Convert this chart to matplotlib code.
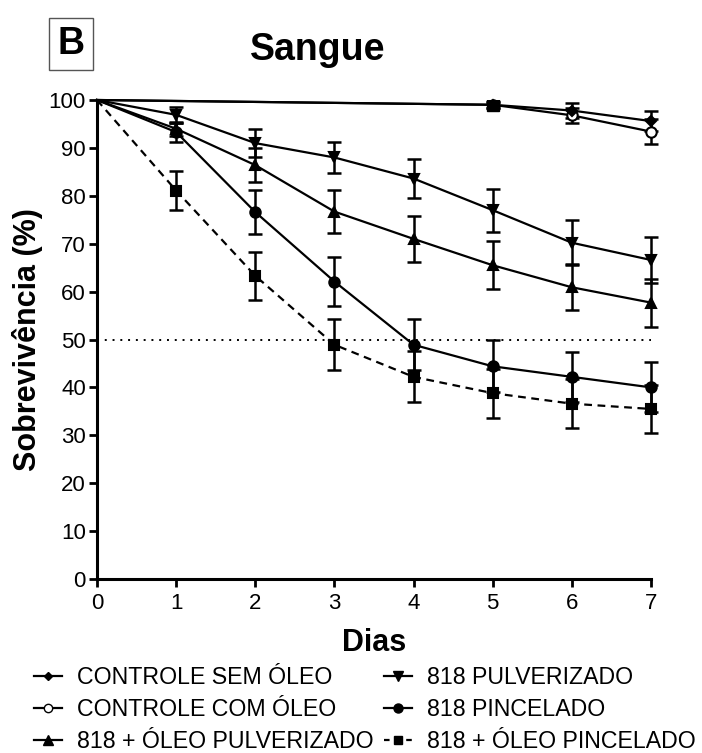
import numpy as np
import matplotlib.pyplot as plt
from matplotlib.lines import Line2D

plt.rcParams['font.family'] = ['Liberation Sans', 'DejaVu Sans']

# dados
dias = [0, 1, 2, 3, 4, 5, 6, 7]
dias_ctrl = [0, 5, 6, 7]

ctrl_sem = [100, 99.0, 97.8, 95.6]
ctrl_sem_err = [0, 0.6, 1.5, 2.1]
ctrl_com = [100, 99.0, 96.8, 93.4]
ctrl_com_err = [0, 0.6, 1.5, 2.6]

pulv = [100, 96.9, 91.0, 88.0, 83.6, 77.0, 70.2, 66.6]
pulv_err = [0, 1.6, 3.0, 3.3, 4.0, 4.5, 4.7, 4.8]
oleo_pulv = [100, 94.0, 86.4, 76.7, 71.0, 65.5, 60.9, 57.7]
oleo_pulv_err = [0, 1.5, 3.5, 4.5, 4.8, 5.0, 4.8, 5.0]
pinc = [100, 93.3, 76.6, 62.1, 48.9, 44.4, 42.2, 40.0]
pinc_err = [0, 2.0, 4.6, 5.2, 5.3, 5.4, 5.2, 5.2]
oleo_pinc = [100, 81.1, 63.3, 48.9, 42.2, 38.8, 36.6, 35.5]
oleo_pinc_err = [0, 4.0, 5.0, 5.3, 5.3, 5.1, 5.1, 5.0]

fig = plt.figure(figsize=(7.02, 7.53), dpi=100)
ax = fig.add_axes([97/702, 1-579/753, (651-97)/702, (579-100)/753])


def serie(x, y, e, marker, ls='-', mfc='black', ms=7.5):
    ax.errorbar(x[1:], y[1:], yerr=e[1:], fmt='none', ecolor='black',
                capsize=5, capthick=1.8, elinewidth=1.8, clip_on=False, zorder=3)
    ax.plot(x, y, ls=ls, color='black', lw=1.6, marker=marker, ms=ms, mfc=mfc,
            mec='black', mew=1.5, markevery=slice(1, None), clip_on=False, zorder=4)


serie(dias, oleo_pinc, oleo_pinc_err, 's', ls=(0, (3.5, 2.5)))
serie(dias, pinc, pinc_err, 'o')
serie(dias, oleo_pulv, oleo_pulv_err, '^')
serie(dias, pulv, pulv_err, 'v')
serie(dias_ctrl, ctrl_com, ctrl_com_err, 'o', mfc='white', ms=7.5)
serie(dias_ctrl, ctrl_sem, ctrl_sem_err, 'D', ms=5)
# marcador quadrado do dia 5 sobre os controles
ax.plot([5], [ctrl_sem[1]], 's', color='black', ms=8.5, zorder=5)

ax.plot([0, 7], [50, 50], ls=(0, (1, 3)), color='black', lw=1.4)

ax.set_xlim(0, 7)
ax.set_ylim(0, 100)
ax.set_xticks(range(0, 8))
ax.set_yticks(range(0, 101, 10))
for s in ['top', 'right']:
    ax.spines[s].set_visible(False)
for s in ['left', 'bottom']:
    ax.spines[s].set_linewidth(2.2)
ax.tick_params(width=2, length=6, labelsize=16)
ax.tick_params(axis='x', pad=4)
ax.tick_params(axis='y', pad=2)
ax.set_ylabel('Sobrevivência (%)', fontsize=22, fontweight='bold', labelpad=4)
ax.set_xlabel('Dias', fontsize=22, fontweight='bold', labelpad=10)

fig.text(318/702, 1-50/753, 'Sangue', fontsize=27, fontweight='bold',
         ha='center', va='center')
fig.text(71/702, 1-44/753, 'B', fontsize=27, fontweight='bold', ha='center',
         va='center', bbox=dict(boxstyle='square,pad=0.22', fc='white',
                                ec='#555555', lw=1))

handles = [
    Line2D([], [], color='black', lw=1.6, marker='D', ms=4.5),
    Line2D([], [], color='black', lw=1.6, marker='o', ms=6, mfc='white'),
    Line2D([], [], color='black', lw=1.6, marker='^', ms=6.5),
    Line2D([], [], color='black', lw=1.6, marker='v', ms=6.5),
    Line2D([], [], color='black', lw=1.6, marker='o', ms=6.5),
    Line2D([], [], color='black', lw=1.6, marker='s', ms=6, ls=(0, (2.5, 2.5))),
]
labels = ['CONTROLE SEM ÓLEO', 'CONTROLE COM ÓLEO', '818 + ÓLEO PULVERIZADO',
          '818 PULVERIZADO', '818 PINCELADO', '818 + ÓLEO PINCELADO']
fig.legend(handles, labels, ncol=2, loc='upper left',
           bbox_to_anchor=(34/702, 1-666/753), frameon=False, fontsize=16.7,
           handlelength=1.2, handletextpad=0.65, columnspacing=0.45,
           labelspacing=0.38, borderaxespad=0, borderpad=0)

fig.savefig('out.png', dpi=100)
